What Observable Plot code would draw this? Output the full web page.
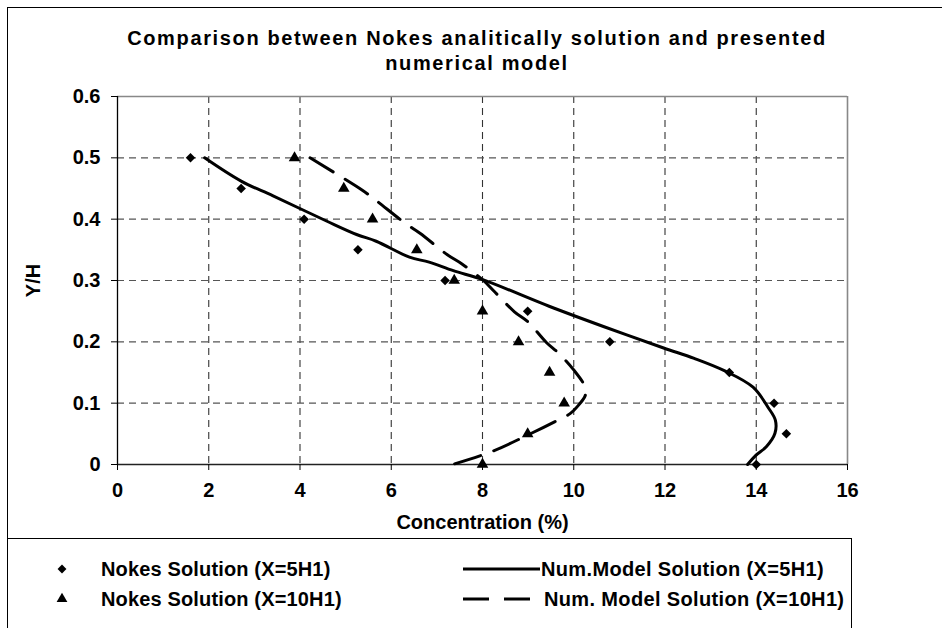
<!DOCTYPE html>
<html>
<head>
<meta charset="utf-8">
<script src="https://cdn.jsdelivr.net/npm/d3@7"></script>
<script src="https://cdn.jsdelivr.net/npm/@observablehq/plot@0.6"></script>
<style>
  html, body { margin: 0; padding: 0; background: #fff; }
  #chart { position: relative; width: 942px; height: 628px; overflow: hidden; background: #fff;
           font-family: "Liberation Sans", Arial, sans-serif; font-weight: bold; color: #000; }
  #border { position: absolute; left: 7px; top: 7px; width: 1200px; height: 1200px; border: 1.5px solid #000; }
  .tline { position: absolute; left: 6px; width: 942px; text-align: center; font-size: 20px; line-height: 24px; white-space: nowrap; }
  #plot { position: absolute; left: 0; top: 75px; }
  #legend { position: absolute; left: 7px; top: 538px; width: 843px; height: 300px; border: 1px solid #000; }
</style>
</head>
<body>
<div id="chart">
  <div id="border"></div>
  <div class="tline" id="t1" style="top:26px;">Comparison between Nokes analitically solution and presented</div>
  <div class="tline" id="t2" style="top:51px;">numerical model</div>
  <div id="plot"></div>
  <div id="legend"></div>
</div>
<script>
// ---- data ----
const yLevels = [0.5, 0.45, 0.4, 0.35, 0.3, 0.25, 0.2, 0.15, 0.1, 0.05, 0];
const nokes5X  = [1.60, 2.71, 4.09, 5.27, 7.18, 8.99, 10.79, 13.41, 14.39, 14.66, 14.0];
const nokes10X = [3.88, 4.96, 5.59, 6.56, 7.38, 8.0, 8.79, 9.47, 9.79, 8.99, 8.0];

const model5X = [1.91, 2.71, 3.41, 4.58, 5.24, 5.67, 6.40, 6.83, 7.36, 8.02, 9.46, 10.65, 11.97, 12.64, 13.30, 13.93, 14.26, 14.42, 14.41, 14.22, 13.99, 13.81];
const model5Y = [0.5, 0.462, 0.438, 0.397, 0.375, 0.364, 0.338, 0.330, 0.316, 0.301, 0.258, 0.225, 0.19, 0.173, 0.153, 0.126, 0.093, 0.072, 0.051, 0.029, 0.015, 0];

const model10X = [4.22, 5.31, 5.59, 6.33, 6.63, 7.23, 7.55, 8.02, 8.26, 8.70, 8.99, 9.40, 9.66, 9.99, 10.25, 10.25, 10.12, 9.92, 9.59, 8.99, 8.2, 7.34];
const model10Y = [0.5, 0.45, 0.435, 0.392, 0.377, 0.342, 0.327, 0.30, 0.282, 0.249, 0.233, 0.199, 0.182, 0.155, 0.126, 0.112, 0.098, 0.083, 0.07, 0.048, 0.021, 0];

const xTicks = [0, 2, 4, 6, 8, 10, 12, 14, 16];
const yTicks = [0, 0.1, 0.2, 0.3, 0.4, 0.5, 0.6];
const xGrid = [2, 4, 6, 8, 10, 12, 14];
const yGrid = [0.1, 0.2, 0.3, 0.4, 0.5];

const legendItems = [
  "Nokes Solution (X=5H1)",
  "Nokes Solution (X=10H1)",
  "Num.Model Solution (X=5H1)",
  "Num. Model Solution (X=10H1)"
];

// ---- build tables ----
const nokes5 = yLevels.map((y, i) => ({x: nokes5X[i], y}));
const nokes10 = yLevels.map((y, i) => ({x: nokes10X[i], y}));
const model5 = model5X.map((x, i) => ({x, y: model5Y[i]}));
const model10 = model10X.map((x, i) => ({x, y: model10Y[i]}));

const plot = Plot.plot({
  width: 942,
  height: 474,
  marginLeft: 117,
  marginRight: 95,
  marginTop: 21,
  marginBottom: 85,
  style: {fontFamily: "'Liberation Sans', Arial, sans-serif", fontSize: "20px", fontWeight: "bold", color: "#000", background: "transparent", overflow: "visible"},
  x: {domain: [0, 16]},
  y: {domain: [0, 0.6]},
  marks: [
    Plot.ruleX(xGrid, {stroke: "#333", strokeWidth: 1.1, strokeDasharray: "7,5"}),
    Plot.ruleY(yGrid, {stroke: "#555", strokeWidth: 1.1, strokeDasharray: "7,5"}),
    Plot.ruleY([0.6], {stroke: "#888", strokeWidth: 1.6}),
    Plot.ruleX([16], {stroke: "#888", strokeWidth: 1.6}),
    Plot.ruleX([0], {stroke: "#000", strokeWidth: 1.3}),
    Plot.ruleY([0], {stroke: "#222", strokeWidth: 1.6}),
    Plot.axisX({ticks: xTicks, tickFormat: d => String(d), tickSize: 6, tickPadding: 12, label: "Concentration (%)", labelAnchor: "center", labelArrow: "none", labelOffset: 64, fontSize: 20}),
    Plot.axisY({ticks: yTicks, tickFormat: d => d === 0 ? "0" : d.toFixed(1), tickSize: 6, tickPadding: 11, label: "Y/H", labelAnchor: "center", labelArrow: "none", labelOffset: 92, fontSize: 20}),
    Plot.line(model5, {x: "x", y: "y", stroke: "#000", strokeWidth: 3, curve: "catmull-rom"}),
    Plot.line(model10, {x: "x", y: "y", stroke: "#000", strokeWidth: 3, strokeDasharray: "27,14", curve: "catmull-rom"}),
    Plot.dot(nokes5, {x: "x", y: "y", symbol: "diamond2", r: 4.3, fill: "#000", stroke: "none"}),
    Plot.dot(nokes10, {x: "x", y: "y", symbol: "triangle", r: 4.3, fill: "#000", stroke: "none"})
  ]
});
document.getElementById("plot").appendChild(plot);

// ---- title letter spacing to match the reference width ----
(function fitTitle() {
  const c = document.createElement("canvas").getContext("2d");
  c.font = "bold 20px 'Liberation Sans', Arial, sans-serif";
  const t1 = document.getElementById("t1"), t2 = document.getElementById("t2");
  const w = c.measureText(t1.textContent).width;
  const n = t1.textContent.length - 1;
  const ls = (698 - w) / n;
  t1.style.letterSpacing = ls + "px";
  t2.style.letterSpacing = ls + "px";
})();

// ---- legend ----
(function legend() {
  const svg = d3.select("#legend").append("svg")
    .attr("width", 843).attr("height", 90)
    .style("position", "absolute").style("left", "0px").style("top", "0px")
    .style("font-family", "'Liberation Sans', Arial, sans-serif")
    .style("font-weight", "bold").style("font-size", "20px");
  const ox = -8, oy = -539; // page -> legend coordinates
  const rows = [569, 599];
  const area = Math.PI * 4.0 * 4.0;
  svg.append("path").attr("d", d3.symbol().size(area).type(d3.symbolDiamond2)()).attr("transform", `translate(${62 + ox},${rows[0] + oy})`).attr("fill", "#000");
  svg.append("path").attr("d", d3.symbol().size(area).type(d3.symbolTriangle)()).attr("transform", `translate(${62 + ox},${rows[1] + oy})`).attr("fill", "#000");
  svg.append("line").attr("x1", 463 + ox).attr("x2", 540 + ox).attr("y1", rows[0] + oy).attr("y2", rows[0] + oy).attr("stroke", "#000").attr("stroke-width", 3);
  svg.append("line").attr("x1", 463 + ox).attr("x2", 531 + ox).attr("y1", rows[1] + oy).attr("y2", rows[1] + oy).attr("stroke", "#000").attr("stroke-width", 3).attr("stroke-dasharray", "26,15");
  const tx = [101, 101, 541, 544], ty = [rows[0], rows[1], rows[0], rows[1]];
  const sp = [0.15, 0.15, 0.35, 0.35];
  legendItems.forEach((s, i) => {
    svg.append("text").attr("x", tx[i] + ox).attr("y", ty[i] + oy).attr("dy", "0.35em")
      .style("letter-spacing", sp[i] + "px").text(s);
  });
})();
</script>
</body>
</html>
